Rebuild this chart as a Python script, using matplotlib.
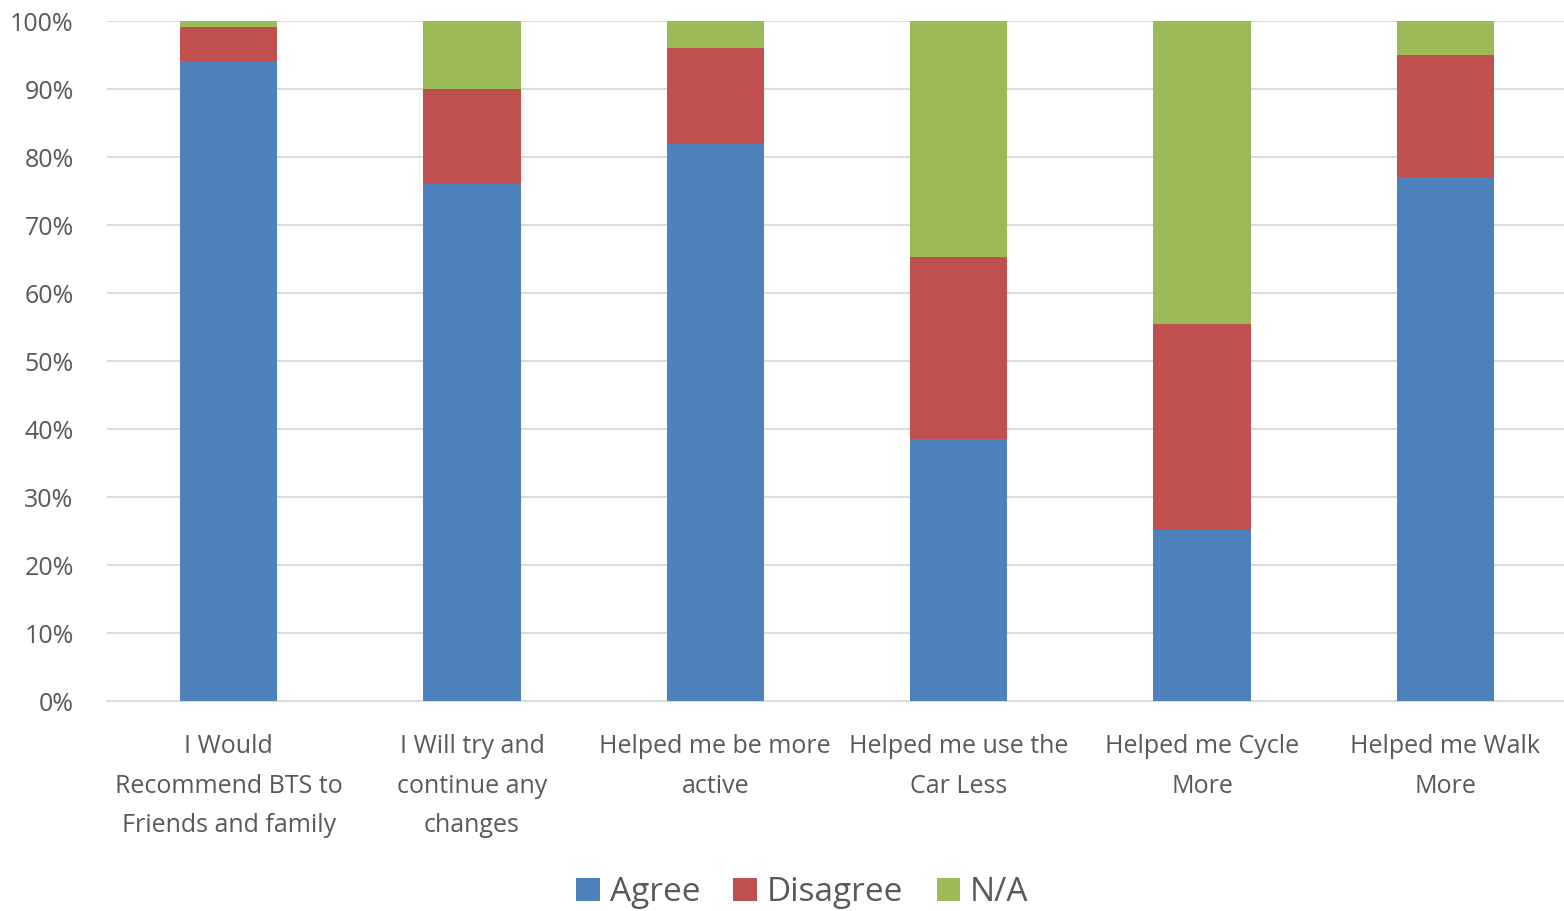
import matplotlib
matplotlib.use("Agg")
import matplotlib.pyplot as plt
import matplotlib.ticker as mticker
import numpy as np

CATEGORIES = [
    "I Would\nRecommend BTS to\nFriends and family",
    "I Will try and\ncontinue any\nchanges",
    "Helped me be more\nactive",
    "Helped me use the\nCar Less",
    "Helped me Cycle\nMore",
    "Helped me Walk\nMore",
]
AGREE = [94.0, 76.1, 81.9, 38.5, 25.2, 77.1]
DISAGREE = [5.1, 13.9, 14.1, 26.8, 30.2, 17.9]
NA = [0.9, 10.0, 4.0, 34.7, 44.6, 5.0]
SERIES = ["Agree", "Disagree", "N/A"]
COLORS = ["#4f81bd", "#c0504d", "#9bbb59"]
TEXT_COLOR = "#595959"

plt.rcParams["font.family"] = ["Open Sans", "DejaVu Sans"]

fig = plt.figure(figsize=(15.64, 9.11), dpi=100)
ax = fig.add_axes([0.0684, 0.2305, 0.9335, 0.7464])

x = np.arange(len(CATEGORIES))
bottom = np.zeros(len(CATEGORIES))
for name, vals, color in zip(SERIES, [AGREE, DISAGREE, NA], COLORS):
    ax.bar(x, vals, width=0.4, bottom=bottom, color=color, label=name, zorder=3)
    bottom = bottom + np.array(vals)

ax.set_xlim(-0.5, len(CATEGORIES) - 0.5)
ax.set_ylim(0, 100)
ax.yaxis.set_major_locator(mticker.MultipleLocator(10))
ax.yaxis.set_major_formatter(mticker.PercentFormatter(decimals=0))
ax.grid(axis="y", color="#d9d9d9", linewidth=1.3, zorder=0)
for side in ["top", "right", "left"]:
    ax.spines[side].set_visible(False)
ax.spines["bottom"].set_color("#d9d9d9")
ax.spines["bottom"].set_linewidth(1.3)

ax.set_xticks(x)
ax.set_xticklabels(CATEGORIES, fontsize=18, color=TEXT_COLOR, linespacing=1.75)
ax.tick_params(axis="x", length=0, pad=24)
ax.tick_params(axis="y", length=0, pad=24, labelsize=18, labelcolor=TEXT_COLOR)

leg = fig.legend(loc="center", bbox_to_anchor=(0.513, 0.020), ncol=3,
                 frameon=False, fontsize=24, handlelength=0.7, handleheight=0.7,
                 handletextpad=0.3, columnspacing=1.0, borderpad=0)
for t in leg.get_texts():
    t.set_color(TEXT_COLOR)

fig.savefig("out.png", dpi=100)
